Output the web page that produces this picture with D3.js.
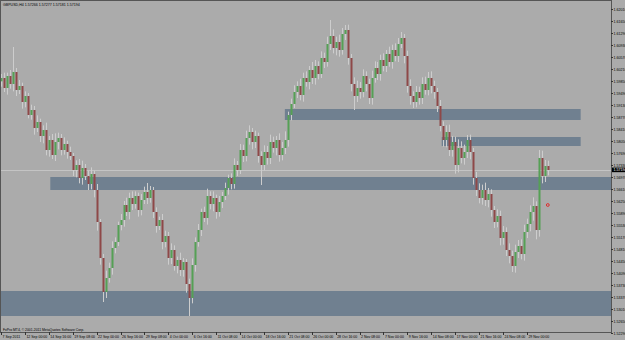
<!DOCTYPE html>
<html>
<head>
<meta charset="utf-8">
<script src="https://cdn.jsdelivr.net/npm/d3@7"></script>
<style>
  body { margin: 0; background: #fff; }
  svg { display: block; }
  text { font-family: "Liberation Sans", Arial, sans-serif; }
</style>
</head>
<body>
<div id="chart"></div>
<script>
// header / footer texts
var symbolTitle = "GBPUSD,H4  1.57266 1.57277 1.57181 1.57194";
var copyright = "FxPro MT4, \u00a9 2001-2011 MetaQuotes Software Corp.";

// one drawn candle per 2 H4 bars, open = previous close
var barStep = 2;
var firstOpen = 1.5985;
var closes = [
  1.5995,1.5965,1.6001,1.5977,1.6013,1.5959,1.5971,1.5923,1.5941,1.5884,
  1.5899,1.5845,1.5863,1.5821,1.5839,1.5779,1.5809,1.5764,1.5803,1.5815,
  1.5779,1.5797,1.5773,1.5761,1.5719,1.5734,1.5695,1.5725,1.5701,1.5677,
  1.5707,1.5659,1.5563,1.5455,1.5353,1.5395,1.5425,1.5485,1.5503,1.5554,
  1.5569,1.5614,1.5593,1.5635,1.5617,1.5641,1.5599,1.5629,1.5653,1.5635,
  1.5659,1.5593,1.5551,1.5569,1.5503,1.5521,1.5455,1.5479,1.5431,1.5449,
  1.5419,1.5443,1.5377,1.5335,1.5434,1.5503,1.5539,1.5593,1.5575,1.5641,
  1.5617,1.5635,1.5593,1.5623,1.5641,1.5665,1.5695,1.5677,1.5734,1.5719,
  1.5779,1.5761,1.5815,1.5833,1.5803,1.5821,1.5761,1.5734,1.5773,1.5755,
  1.5803,1.5785,1.5809,1.5764,1.5785,1.5809,1.5884,1.5917,1.5953,1.5971,
  1.5944,1.5995,1.5983,1.6019,1.5995,1.6031,1.6007,1.6055,1.6043,1.6097,
  1.6121,1.6085,1.6103,1.6079,1.6127,1.6139,1.6055,1.5977,1.5941,1.5965,
  1.5953,1.6001,1.5977,1.5935,1.5995,1.6025,1.6007,1.6049,1.6031,1.6067,
  1.6043,1.6079,1.6061,1.6097,1.6115,1.6061,1.5971,1.5941,1.5923,1.5953,
  1.5935,1.5977,1.5959,1.5995,1.5971,1.5953,1.5911,1.5851,1.5809,1.5833,
  1.5779,1.5803,1.5734,1.5785,1.5755,1.5773,1.5809,1.5773,1.5695,1.5659,
  1.5635,1.5659,1.5629,1.5647,1.5599,1.5563,1.5581,1.5515,1.5533,1.5479,
  1.5461,1.5431,1.5473,1.5491,1.5467,1.5533,1.5557,1.5593,1.5611,1.5539,
  1.5755,1.5701,1.5731,1.5719
];
// shadows in pips above / below the body
var wickUp = [
  12,16,10,18,75,12,18,10,14,9, 16,12,20,10,14,22,12,18,26,16, 12,20,10,16,9,14,18,22,12,16,
  20,10,18,9,12,22,16,20,14,10, 18,12,22,16,20,14,10,18,16,27, 12,9,14,10,18,16,12,20,14,10,
  22,12,9,16,20,14,18,10,16,22, 14,20,10,18,12,16,10,14,20,12, 18,16,22,20,12,16,10,14,20,18,
  22,16,12,20,18,26,10,16,20,14, 22,16,20,12,24,18,14,20,16,22, 48,20,16,22,18,15,16,12,20,22,
  18,20,14,16,22,20,18,16,20,12, 22,16,20,18,18,12,16,20,14,18, 16,20,22,18,20,16,12,18,14,20,
  22,18,16,26,20,22,15,16,12,18, 20,16,22,18,14,12,20,16,18,14, 20,16,22,18,20,22,16,20,26,14,
  24,22,18,16
];
var wickDn = [
  16,12,20,14,22,18,12,20,16,10, 14,20,12,18,22,16,20,12,18,22, 16,14,20,12,18,22,16,20,12,18,
  16,22,26,20,30,18,14,20,16,12, 16,20,12,22,18,14,20,16,12,18, 14,18,20,12,22,16,20,18,14,22,
  18,20,26,54,16,20,14,18,12,20, 16,22,20,14,18,12,20,16,14,18, 12,18,16,20,22,18,20,60,16,20,
  18,14,22,20,16,18,20,16,12,18, 16,20,14,22,18,20,16,12,18,14, 18,16,22,20,14,18,20,22,42,18,
  20,16,22,18,20,14,18,20,16,18, 14,20,16,18,12,22,20,26,18,16, 20,18,14,16,22,20,18,16,20,22,
  18,20,26,22,16,20,18,22,20,18, 16,20,18,22,20,18,16,22,20,18, 22,18,20,18,16,20,18,22,26,28,
  20,22,18,16
];

// rectangles drawn on the chart (bar index range, price range)
var zoneStart  = [190, 295, 33, -5];
var zoneEnd    = [388, 388, 420, 420];
var zoneTop    = [1.5902, 1.5818, 1.5698, 1.5356];
var zoneBottom = [1.5869, 1.5791, 1.5659, 1.5281];

var lastPrice = 1.57194;
var markerBar = 366, markerPrice = 1.5614;

var dateLabels = ["7 Sep 2011","12 Sep 00:00","14 Sep 16:00","19 Sep 08:00","22 Sep 00:00",
  "26 Sep 16:00","29 Sep 08:00","4 Oct 00:00","6 Oct 16:00","11 Oct 08:00","14 Oct 00:00",
  "18 Oct 16:00","21 Oct 08:00","26 Oct 00:00","28 Oct 16:00","2 Nov 08:00","7 Nov 00:00",
  "9 Nov 16:00","14 Nov 08:00","17 Nov 00:00","21 Nov 16:00","24 Nov 08:00","29 Nov 00:00"];
var dateLabelStep = 16; // H4 bars between labels

var priceTicks = [1.62010,1.61650,1.61290,1.60930,1.60570,1.60210,1.59850,1.59490,1.59130,
  1.58770,1.58410,1.58050,1.57690,1.57330,1.56970,1.56610,1.56250,1.55890,1.55530,1.55170,
  1.54810,1.54450,1.54090,1.53730,1.53370,1.53010,1.52650,1.52290];

var W = 625, H = 340;
var plotRight = 611, plotBottom = 332;

var bg = "#ababab", zoneColor = "#708090";
var upColor = "#55a055", downColor = "#8e4848", wickColor = "#cdcdcd";

var svg = d3.select("#chart").append("svg").attr("width", W).attr("height", H);
svg.append("rect").attr("width", W).attr("height", H).attr("fill", bg);

var x = d3.scaleLinear().domain([0, 400]).range([1, 1 + 400 * 1.494]);
var y = d3.scaleLinear().domain([1.6229, 1.5233]).range([0, plotBottom]);

svg.append("clipPath").attr("id", "plotclip")
  .append("rect").attr("x", 1).attr("y", 1).attr("width", plotRight - 1).attr("height", plotBottom - 1);
var plot = svg.append("g").attr("clip-path", "url(#plotclip)");

// zones
plot.append("g").selectAll("rect")
  .data(d3.range(zoneStart.length))
  .enter().append("rect")
  .attr("x", function(i) { return x(zoneStart[i]); })
  .attr("y", function(i) { return y(zoneTop[i]); })
  .attr("width", function(i) { return x(zoneEnd[i]) - x(zoneStart[i]); })
  .attr("height", function(i) { return y(zoneBottom[i]) - y(zoneTop[i]); })
  .attr("fill", zoneColor);

// bid line
plot.append("line")
  .attr("x1", 1).attr("x2", plotRight)
  .attr("y1", Math.round(y(lastPrice)) + 0.5).attr("y2", Math.round(y(lastPrice)) + 0.5)
  .attr("stroke", "#c4c4c4").attr("stroke-width", 1);

// candles
var candles = closes.map(function(c, j) {
  var o = j === 0 ? firstOpen : closes[j - 1];
  return {
    bar: j * barStep, o: o, c: c,
    h: Math.max(o, c) + wickUp[j] * 0.0001,
    l: Math.min(o, c) - wickDn[j] * 0.0001
  };
});

var cg = plot.append("g");
cg.selectAll("line").data(candles).enter().append("line")
  .attr("x1", function(d) { return Math.round(x(d.bar)) + 0.5; })
  .attr("x2", function(d) { return Math.round(x(d.bar)) + 0.5; })
  .attr("y1", function(d) { return y(d.h); })
  .attr("y2", function(d) { return y(d.l); })
  .attr("stroke", wickColor).attr("stroke-width", 1);
cg.selectAll("rect").data(candles).enter().append("rect")
  .attr("x", function(d) { return Math.round(x(d.bar)) - 0.5; })
  .attr("width", 2)
  .attr("y", function(d) { return y(Math.max(d.o, d.c)); })
  .attr("height", function(d) { return Math.max(1, Math.abs(y(d.o) - y(d.c))); })
  .attr("fill", function(d) { return d.c >= d.o ? upColor : downColor; });

// red marker
plot.append("circle")
  .attr("cx", x(markerBar)).attr("cy", y(markerPrice)).attr("r", 1.4)
  .attr("fill", "none").attr("stroke", "#e02020").attr("stroke-width", 0.9);

// frame
svg.append("rect").attr("x", 0.5).attr("y", 0.5)
  .attr("width", plotRight).attr("height", plotBottom)
  .attr("fill", "none").attr("stroke", "#555").attr("stroke-width", 1);

// texts
svg.append("text").attr("x", 3).attr("y", 6).attr("font-size", 3.6).attr("fill", "#000").text(symbolTitle);
svg.append("text").attr("x", 3).attr("y", 330.5).attr("font-size", 3.4).attr("fill", "#000").text(copyright);

// price axis
var pa = svg.append("g");
pa.selectAll("line").data(priceTicks).enter().append("line")
  .attr("x1", plotRight).attr("x2", plotRight + 2)
  .attr("y1", function(d) { return Math.round(y(d)) + 0.5; })
  .attr("y2", function(d) { return Math.round(y(d)) + 0.5; })
  .attr("stroke", "#333");
pa.selectAll("text").data(priceTicks).enter().append("text")
  .attr("x", plotRight + 2.5)
  .attr("y", function(d) { return y(d) + 1.3; })
  .attr("font-size", 3.6).attr("fill", "#000")
  .text(function(d) { return d3.format(".5f")(d); });

pa.append("rect").attr("x", plotRight + 1).attr("y", y(lastPrice) - 2.3)
  .attr("width", W - plotRight).attr("height", 4.6).attr("fill", "#000");
pa.append("text").attr("x", plotRight + 2.5).attr("y", y(lastPrice) + 1.3)
  .attr("font-size", 3.6).attr("fill", "#fff").text(d3.format(".5f")(lastPrice));

// time axis
var ta = svg.append("g");
ta.selectAll("line").data(dateLabels).enter().append("line")
  .attr("x1", function(d, i) { return Math.round(x(i * dateLabelStep)) + 0.5; })
  .attr("x2", function(d, i) { return Math.round(x(i * dateLabelStep)) + 0.5; })
  .attr("y1", plotBottom).attr("y2", plotBottom + 3)
  .attr("stroke", "#333");
ta.selectAll("text").data(dateLabels).enter().append("text")
  .attr("x", function(d, i) { return x(i * dateLabelStep) + 1.5; })
  .attr("y", plotBottom + 5.5)
  .attr("font-size", 3.5).attr("fill", "#000")
  .text(function(d) { return d; });
</script>
</body>
</html>
